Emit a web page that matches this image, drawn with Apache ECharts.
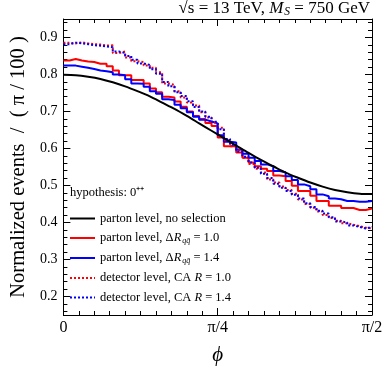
<!DOCTYPE html>
<html>
<head>
<meta charset="utf-8">
<script src="https://cdn.jsdelivr.net/npm/echarts@6/dist/echarts.min.js"></script>
<style>
  html, body { margin: 0; padding: 0; background: #fff; }
  #chart { width: 392px; height: 373px; }
</style>
</head>
<body>
<div id="chart"></div>
<script>
// phi in units of pi/100, 50 bins from 0 to pi/2
const xTicks = [0, 25, 50]
const xTickLabels = ['0', '\u03c0/4', '\u03c0/2']

// parton level, no selection (smooth curve, read every 2 units)
const blackX = [0, 2, 4, 6, 8, 10, 12, 14, 16, 18, 20, 22, 24, 26, 28, 30, 32, 34, 36, 38, 40, 42, 44, 46, 48, 50]
const blackY = [0.799, 0.798, 0.794, 0.788, 0.779, 0.768, 0.755, 0.741, 0.724, 0.707, 0.688, 0.668, 0.648,
    0.628, 0.608, 0.588, 0.569, 0.552, 0.535, 0.521, 0.508, 0.497, 0.488, 0.482, 0.478, 0.477]

// bin contents, one per bin
const redSolid = [0.838, 0.842, 0.838, 0.835, 0.834, 0.829, 0.829, 0.822, 0.811, 0.798,
    0.798, 0.785, 0.785, 0.776, 0.762, 0.752, 0.740, 0.738, 0.727, 0.713,
    0.700, 0.688, 0.680, 0.669, 0.661, 0.630, 0.606, 0.606, 0.589, 0.575,
    0.562, 0.552, 0.545, 0.539, 0.527, 0.525, 0.512, 0.499, 0.485, 0.485,
    0.472, 0.458, 0.458, 0.445, 0.445, 0.439, 0.439, 0.434, 0.434, 0.438]
const blueSolid = [0.824, 0.824, 0.821, 0.818, 0.815, 0.811, 0.809, 0.806, 0.800, 0.798,
    0.787, 0.776, 0.775, 0.767, 0.755, 0.748, 0.733, 0.731, 0.718, 0.709,
    0.698, 0.686, 0.678, 0.673, 0.668, 0.636, 0.618, 0.616, 0.597, 0.586,
    0.575, 0.566, 0.557, 0.552, 0.539, 0.536, 0.525, 0.515, 0.503, 0.498,
    0.490, 0.476, 0.471, 0.465, 0.463, 0.458, 0.458, 0.456, 0.456, 0.458]
const redDotted = [0.886, 0.884, 0.887, 0.884, 0.882, 0.881, 0.878, 0.879, 0.858, 0.862,
    0.846, 0.836, 0.834, 0.824, 0.818, 0.806, 0.776, 0.772, 0.755, 0.738,
    0.724, 0.716, 0.698, 0.684, 0.670, 0.656, 0.622, 0.606, 0.595, 0.575,
    0.558, 0.545, 0.535, 0.516, 0.508, 0.497, 0.488, 0.478, 0.462, 0.450,
    0.440, 0.430, 0.420, 0.412, 0.405, 0.398, 0.394, 0.390, 0.386, 0.384]
const blueDotted = [0.882, 0.886, 0.884, 0.882, 0.879, 0.878, 0.876, 0.874, 0.862, 0.858,
    0.850, 0.840, 0.830, 0.826, 0.814, 0.802, 0.780, 0.768, 0.752, 0.742,
    0.728, 0.712, 0.700, 0.686, 0.672, 0.652, 0.626, 0.610, 0.592, 0.578,
    0.562, 0.548, 0.532, 0.520, 0.505, 0.494, 0.485, 0.475, 0.465, 0.452,
    0.442, 0.432, 0.424, 0.414, 0.403, 0.400, 0.392, 0.388, 0.384, 0.388]

const legendNames = [
    'parton level, no selection',
    'parton level, \u0394R_qq = 1.0',
    'parton level, \u0394R_qq = 1.4',
    'detector level, CA R = 1.0',
    'detector level, CA R = 1.4'
]
const legendRich = [
    'parton level, no selection',
    'parton level, \u0394{i|R}{sub|qq\u0304} = 1.0',
    'parton level, \u0394{i|R}{sub|qq\u0304} = 1.4',
    'detector level, CA {i|R} = 1.0',
    'detector level, CA {i|R} = 1.4'
]

function histPoints(vals) {
    let pts = []
    for (let i = 0; i < vals.length; i++) pts.push([i, vals[i]])
    pts.push([vals.length, vals[vals.length - 1]])
    return pts
}

const serif = 'Liberation Serif'
const tickStyle = { show: true, inside: true, length: 7, lineStyle: { color: '#000' } }
const minorStyle = { show: true, length: 4, lineStyle: { color: '#000' } }

function xAxisDef(pos, labels) {
    return {
        type: 'value', position: pos, min: 0, max: 50, interval: 25,
        axisLine: { show: true, onZero: false, lineStyle: { color: '#000', width: 1 } },
        axisTick: tickStyle,
        minorTick: Object.assign({ splitNumber: 10 }, minorStyle),
        splitLine: { show: false },
        axisLabel: {
            show: labels, fontFamily: serif, fontSize: 16, color: '#000', margin: 5,
            formatter: v => xTickLabels[xTicks.indexOf(v)] || ''
        },
        name: labels ? '\u03d5' : '',
        nameLocation: 'middle', nameGap: 30,
        nameTextStyle: { fontFamily: serif, fontStyle: 'italic', fontSize: 21, color: '#000' }
    }
}

function yAxisDef(pos, labels) {
    return {
        type: 'value', position: pos, min: 0.15, max: 0.95, splitNumber: 8,
        axisLine: { show: true, onZero: false, lineStyle: { color: '#000', width: 1 } },
        axisTick: tickStyle,
        minorTick: Object.assign({ splitNumber: 5 }, minorStyle),
        splitLine: { show: false },
        axisLabel: {
            show: labels, fontFamily: serif, fontSize: 14, color: '#000', margin: 6,
            showMinLabel: false, showMaxLabel: false,
            formatter: v => v.toFixed(1)
        },
        name: labels ? 'Normalized events  /  ( \u03c0 / 100 )' : '',
        nameLocation: 'middle', nameGap: 30,
        nameTextStyle: { fontFamily: serif, fontSize: 20.5, color: '#000' }
    }
}

const colors = ['#000000', '#ff0000', '#0000ff', '#ff0000', '#0000ff']
const stepData = [null, redSolid, blueSolid, redDotted, blueDotted]

let series = [{
    name: legendNames[0], type: 'line', symbol: 'none', smooth: 0.3,
    data: blackX.map((x, i) => [x, blackY[i]]),
    lineStyle: { color: colors[0], width: 2 }, itemStyle: { color: colors[0] }, z: 5
}]
for (let s = 1; s < 5; s++) {
    series.push({
        name: legendNames[s], type: 'line', symbol: 'none', step: 'end',
        data: histPoints(stepData[s]),
        lineStyle: { color: colors[s], width: 2, type: s >= 3 ? [2, 2] : 'solid' },
        itemStyle: { color: colors[s] }
    })
}

const chart = echarts.init(document.getElementById('chart'), null, { renderer: 'canvas' })
chart.setOption({
    animation: false,
    backgroundColor: '#fff',
    grid: { left: 58, right: 20, top: 19, bottom: 58 },
    title: {
        right: 22, top: 0, padding: [0, 0, 0, 0],
        text: '\u221as = 13 TeV, {i|M}{sub|S} = 750 GeV',
        textStyle: {
            fontFamily: serif, fontSize: 17, fontWeight: 'normal', color: '#000',
            rich: {
                i: { fontFamily: serif, fontSize: 17, fontStyle: 'italic', color: '#000' },
                sub: { fontFamily: serif, fontSize: 11.5, fontStyle: 'italic', color: '#000', padding: [6, 0, 0, 1] }
            }
        }
    },
    legend: {
        left: 64, top: 207, orient: 'vertical',
        itemWidth: 25, itemHeight: 12, itemGap: 6.5,
        itemStyle: { opacity: 0 },
        lineStyle: { width: 2 },
        data: legendNames,
        formatter: name => legendRich[legendNames.indexOf(name)],
        textStyle: {
            fontFamily: serif, fontSize: 12.5, color: '#000',
            rich: {
                i: { fontFamily: serif, fontSize: 12.5, fontStyle: 'italic', color: '#000' },
                sub: { fontFamily: serif, fontSize: 8, fontStyle: 'italic', color: '#000', padding: [6, 0, 0, 1] }
            }
        }
    },
    graphic: [{
        type: 'text', left: 70, top: 186,
        style: { text: 'hypothesis: 0\u207a\u207a', font: '12.5px "Liberation Serif"', fill: '#000' }
    }],
    xAxis: [xAxisDef('bottom', true), xAxisDef('top', false)],
    yAxis: [yAxisDef('left', true), yAxisDef('right', false)],
    series: series
})
</script>
</body>
</html>
